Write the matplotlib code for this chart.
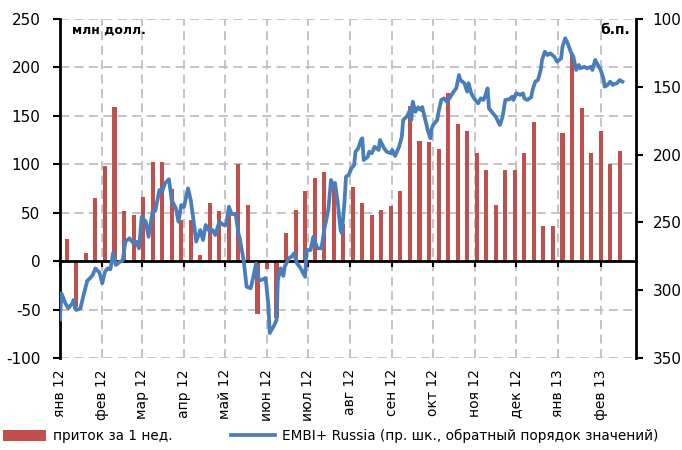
import matplotlib
matplotlib.use("Agg")
import matplotlib.pyplot as plt
import matplotlib.dates as mdates
import numpy as np
import pandas as pd

# weekly flows, mln USD (one bar per week, Fridays)
flow_start = "2012-01-06"
flows = [23, -47, 8, 65, 98, 159, 52, 48, 66, 102, 102, 74, 42, 42, 6, 60, 52, 50, 100, 58,
         -55, -8, -59, 29, 53, 72, 86, 92, 80, 38, 77, 60, 48, 53, 57, 72, 160, 124, 123, 116,
         174, 142, 134, 112, 94, 58, 94, 94, 112, 144, 36, 36, 132, 214, 158, 112, 134, 100, 114]

# EMBI+ Russia spread, b.p.; day = days since 2012-01-01
embi_day = [0, 1, 4, 6, 9, 10, 11, 12, 15, 17, 20, 22, 24, 26, 29, 31, 33, 35, 37, 39,
            41, 44, 46, 48, 51, 54, 56, 58, 60, 63, 65, 68, 70, 73, 75, 77, 80, 82, 85, 87,
            89, 91, 94, 96, 98, 100, 103, 105, 107, 110, 112, 114, 117, 120, 122, 124, 126, 129, 131, 132,
            135, 137, 140, 142, 144, 146, 148, 151, 153, 154, 157, 159, 160, 162, 164, 165, 168, 170, 172, 174,
            176, 178, 180,
            181, 184, 186, 189, 192, 194, 197, 199, 201, 202, 204, 206, 207, 209, 210, 212, 214, 216, 217, 219,
            221, 222, 223, 226, 227, 229, 231, 234, 235, 238, 240, 243, 244, 246, 249, 251, 252, 255, 257,
            258, 259, 261, 263, 265, 266, 268, 270, 272, 273, 274, 277, 278, 280, 282, 284, 286, 289, 291, 293,
            294, 297, 299, 300, 302, 304, 307, 309, 311, 312, 314, 315, 317, 320, 323, 325, 327, 330, 332, 333,
            335, 338, 340,
            341, 343, 346, 347, 349, 351, 353, 354, 356, 358, 360, 363, 365, 368, 369, 371, 373, 375, 377, 379,
            381, 382, 385, 387, 390, 391, 393, 395, 397, 399, 400, 402, 404, 406, 407, 409, 411, 413]
embi_bp = [321.5, 302.3, 309.7, 313.4, 309.7, 307.2, 313.4, 314.6, 313.4, 304.8,
           293.0, 291.2, 288.8, 283.9, 287.1, 294.9, 286.4, 283.9, 284.6, 272.4,
           281.4, 279.0, 278.2, 264.2, 261.7, 265.4, 264.2, 269.1, 245.8, 249.5,
           260.6, 242.1, 241.4, 226.1, 227.4, 221.2, 218.2, 233.5, 239.4, 249.5,
           237.2, 238.7, 224.9, 233.5, 248.2, 264.2, 255.6, 263.0, 251.9, 256.9,
           255.6, 259.3, 249.5, 251.9, 251.9, 238.4, 243.8, 243.8, 258.0, 261.7,
           279.0, 297.4, 298.6, 290.0, 280.2, 292.5, 292.5, 291.0, 310.9, 331.6,
           326.4, 322.0, 292.5, 283.9, 289.5, 282.7, 276.3, 275.3, 272.8, 280.2,
           282.7, 286.4, 290.1,
           270.4, 270.4, 260.6, 269.1, 269.1, 255.6, 240.9, 218.7, 223.7, 220.9,
           235.9, 255.6, 258.0, 233.5, 216.3, 215.0, 210.1, 207.7, 197.9, 195.4,
           189.2, 188.0, 204.0, 201.6, 197.9, 199.0, 194.2, 196.6, 189.2, 195.4,
           197.9, 199.0, 196.6, 201.0, 194.2, 186.8, 174.5, 171.5, 167.1,
           174.5, 161.0, 168.4, 165.1, 167.1, 164.9, 173.2, 181.9, 188.0, 180.6,
           178.2, 174.5, 168.4, 159.7, 158.5, 161.0, 158.5, 153.6, 151.1, 141.3,
           145.0, 147.4, 153.6, 147.4, 154.8, 158.5, 162.2, 158.5, 159.7, 157.3,
           151.1, 165.9, 168.4, 172.1, 178.2, 172.1, 159.7, 159.2, 157.3, 159.7,
           154.8, 156.0, 154.8,
           158.5, 159.7, 157.7, 152.4, 146.2, 145.0, 137.6, 130.2, 124.1, 126.6,
           125.3, 127.8, 131.5, 129.0, 120.4, 114.2, 118.4, 124.1, 127.8, 137.6,
           133.9, 136.4, 135.2, 136.4, 135.2, 137.6, 130.2, 133.9, 137.6, 143.7,
           149.9, 148.7, 146.2, 148.7, 147.9, 147.4, 145.0, 146.2]

month_labels = ["янв 12", "фев 12", "мар 12", "апр 12", "май 12", "июн 12", "июл 12",
                "авг 12", "сен 12", "окт 12", "ноя 12", "дек 12", "янв 13", "фев 13"]

plt.rcParams["font.family"] = ["DejaVu Sans"]
plt.rcParams["axes.unicode_minus"] = False

RED = "#C0504D"
BLUE = "#4A7EBB"
GRID = "#BFBFBF"

base = mdates.date2num(pd.Timestamp("2012-01-01"))
bar_x = mdates.date2num(pd.date_range(flow_start, periods=len(flows), freq="7D"))
line_x = base + np.array(embi_day)
month_x = mdates.date2num(pd.date_range("2012-01-01", periods=len(month_labels), freq="MS"))

fig = plt.figure(figsize=(6.82, 4.5), dpi=100)
ax = fig.add_axes([0.088, 0.2044, 0.8446, 0.7534])
ax2 = ax.twinx()

bars = ax.bar(bar_x, flows, width=3, color=RED, zorder=2)
line, = ax2.plot(line_x, embi_bp, color=BLUE, lw=2.7, solid_joinstyle="round")

ax.set_xlim(base, mdates.date2num(pd.Timestamp("2013-02-27")))
ax.set_ylim(-100, 250)
ax2.set_ylim(350, 100)
ax.set_yticks(range(-100, 251, 50))
ax2.set_yticks(range(100, 351, 50))
ax.set_xticks(month_x)

ax.grid(True, color=GRID, ls=(0, (5, 3)), lw=1.3)
ax.set_axisbelow(True)

# zero line acts as the x axis
ax.spines["bottom"].set_position(("data", 0))
ax.spines["bottom"].set_linewidth(2)
ax.spines["left"].set_linewidth(2)
ax.spines["top"].set_visible(False)
ax.spines["right"].set_visible(False)
for s in ["top", "bottom", "left"]:
    ax2.spines[s].set_visible(False)
ax2.spines["right"].set_linewidth(2)

ax.tick_params(axis="x", direction="out", length=4, width=1.5, labelbottom=False)
ax.tick_params(axis="y", direction="out", length=5, width=1.5, labelsize=11, pad=9)
ax2.tick_params(axis="y", direction="out", length=5, width=1.5, labelsize=11, pad=7)

# month labels sit at the bottom of the plot
sec = ax.secondary_xaxis("bottom")
sec.set_xticks(month_x)
sec.set_xticklabels(month_labels, rotation=90, fontsize=10)
sec.tick_params(length=0, pad=8)
sec.spines["bottom"].set_visible(False)

ax.text(0.021, 0.9676, "млн долл.", transform=ax.transAxes, ha="left", va="center",
        fontsize=9, fontweight="bold")
ax.text(0.99, 0.9676, "б.п.", transform=ax.transAxes, ha="right", va="center",
        fontsize=10, fontweight="bold")

fig.legend([bars, line], ["приток за 1 нед.", "EMBI+ Russia (пр. шк., обратный порядок значений)"],
           loc="center left", bbox_to_anchor=(0.004, 0.031), ncol=2, frameon=False,
           fontsize=9.8, handlelength=3.2, handleheight=0.9, handletextpad=0.5,
           columnspacing=4.3, borderpad=0, borderaxespad=0)

fig.savefig("out.png", dpi=100)
